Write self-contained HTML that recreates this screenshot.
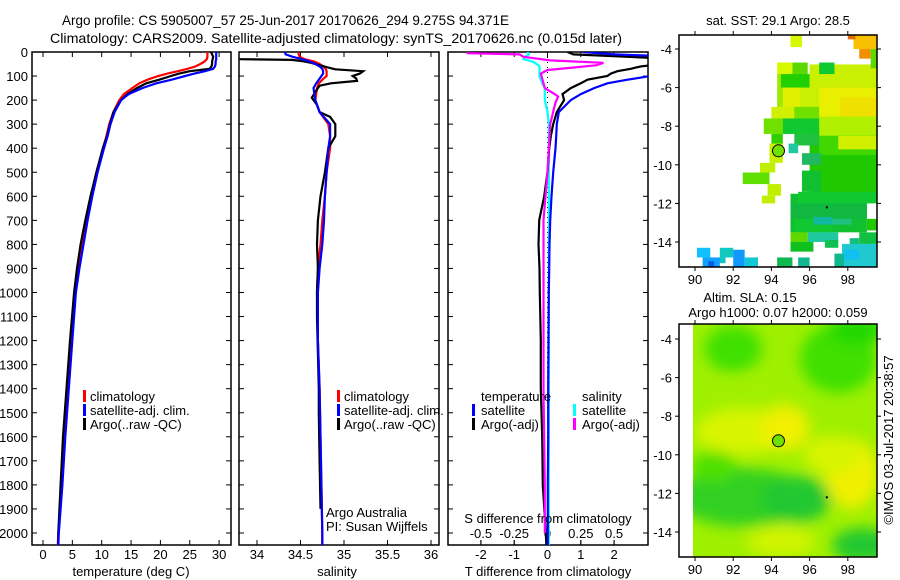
<!DOCTYPE html>
<html><head><meta charset="utf-8">
<style>
html,body{margin:0;padding:0;background:#fff;}
svg{display:block;font-family:"Liberation Sans",sans-serif;}
</style></head>
<body>
<svg id="fig" width="900" height="580" viewBox="0 0 900 580" xmlns="http://www.w3.org/2000/svg">
<defs>
<clipPath id="c1"><rect x="32" y="52" width="199" height="493"/></clipPath>
<clipPath id="c2"><rect x="239" y="52" width="200" height="493"/></clipPath>
<clipPath id="c3"><rect x="448" y="52" width="200" height="493"/></clipPath>
<clipPath id="cm1"><rect x="679" y="35" width="198" height="232"/></clipPath>
<clipPath id="cm2"><rect x="693" y="324" width="184" height="233"/></clipPath>
<filter id="blur" x="-20%" y="-20%" width="140%" height="140%"><feGaussianBlur stdDeviation="7"/></filter>
</defs>
<text x="62" y="25" font-size="14" textLength="447" lengthAdjust="spacingAndGlyphs">Argo profile: CS 5905007_57 25-Jun-2017 20170626_294 9.275S 94.371E</text>
<text x="50" y="43" font-size="14" textLength="572" lengthAdjust="spacingAndGlyphs">Climatology: CARS2009. Satellite-adjusted climatology: synTS_20170626.nc (0.015d later)</text>
<g id="plots"></g>
<g id="maps"></g>
<text transform="translate(893,440) rotate(-90)" text-anchor="middle" font-size="13">©IMOS 03-Jul-2017 20:38:57</text>
</svg>
<script>
// ---- data ----
const depths      = [0,10,20,30,40,50,60,70,80,90,100,115,130,150,175,200,250,300,350,400,500,600,700,800,900,1000,1200,1400,1600,1800,2000,2060];
const tempClim    = [28.0,28.0,28.0,27.9,27.5,26.8,26.0,24.6,23.0,21.2,19.6,17.8,16.4,15.2,13.8,13.0,12.0,11.3,10.8,10.2,9.1,8.2,7.4,6.7,6.0,5.5,4.9,4.3,3.7,3.2,2.6,2.5];
const tempSat     = [29.5,29.5,29.5,29.5,29.4,29.4,29.3,29.0,27.6,25.8,24.2,21.9,19.3,16.9,14.6,13.3,12.2,11.5,11.0,10.4,9.3,8.4,7.6,6.9,6.2,5.6,5.0,4.4,3.8,3.3,2.7,2.6];
const tempArgo    = [28.6,28.8,29.0,28.9,28.8,28.8,28.7,28.4,25.0,23.2,21.8,19.8,17.6,16.0,14.4,13.3,12.0,11.4,10.9,10.2,9.1,8.1,7.2,6.4,5.8,5.3,4.6,4.0,3.4,3.0,2.6,2.6];
const salClim     = [34.47,34.48,34.49,34.55,34.66,34.72,34.76,34.79,34.80,34.80,34.80,34.75,34.71,34.69,34.68,34.67,34.72,34.82,34.84,34.84,34.80,34.78,34.75,34.73,34.70,34.69,34.70,34.72,34.73,34.74,34.75,34.75];
const salSat      = [34.32,34.33,34.41,34.52,34.61,34.67,34.72,34.75,34.76,34.76,34.74,34.71,34.68,34.65,34.66,34.67,34.72,34.84,34.84,34.82,34.80,34.78,34.77,34.75,34.72,34.70,34.70,34.72,34.73,34.74,34.75,34.75];
const salArgoDep  = [30,33,38,45,55,65,72,80,90,100,110,120,130,140,155,190,220,250,270,300,350,400,500,600,700,800,900,1000,1100,1400,1500,1700,1900];
const salArgo     = [33.80,34.40,34.52,34.62,34.72,34.82,34.90,35.22,35.18,35.10,35.14,35.15,34.85,34.72,34.69,34.63,34.69,34.72,34.84,34.90,34.90,34.82,34.78,34.73,34.70,34.69,34.70,34.69,34.69,34.71,34.71,34.72,34.73];
const dTSat       = [1.07,2.0,4.0,4.0,4.0,4.0,4.0,4.0,4.0,3.5,3.1,2.4,1.8,1.4,1.0,0.7,0.34,0.28,0.26,0.24,0.17,0.12,0.08,0.06,0.05,0.04,0.03,0.02,0.02,0.01,0.01,0.01];
const dTArgo      = [0.6,0.78,2.4,4.0,4.0,3.5,2.8,2.5,2.1,1.9,1.8,1.2,1.0,0.7,0.45,0.5,0.28,0.17,0.1,0.05,0.0,-0.1,-0.25,-0.27,-0.24,-0.23,-0.2,-0.2,-0.16,-0.14,-0.05,-0.03];
const dSSat       = [-0.15,-0.14,-0.17,-0.18,-0.11,-0.08,-0.06,-0.06,-0.06,-0.06,-0.06,-0.05,-0.04,-0.02,-0.02,-0.02,0.0,0.01,0.01,0.01,0.01,0.01,0.01,0.01,0.01,0.01,0.01,0.01,0.01,0.01,0.01,0.01];
const dSArgoDep   = [0,5,10,20,35,45,55,65,75,90,110,150,170,185,210,300,500,700,1000,1400,1800,2000];
const dSArgo      = [-0.6,-0.6,-0.21,-0.18,0.02,0.42,0.37,0.19,0.0,-0.05,-0.04,-0.02,0.04,0.08,0.06,0.02,0.0,-0.03,-0.03,-0.03,-0.02,-0.02];
const depthTicks  = [0,100,200,300,400,500,600,700,800,900,1000,1100,1200,1300,1400,1500,1600,1700,1800,1900,2000];
const tempTicks   = [0,5,10,15,20,25,30];
const salTicks    = [34,34.5,35,35.5,36];
const dTTicks     = [-2,-1,0,1,2];
const dSTicks     = [-0.5,-0.25,0,0.25,0.5];
const lonTicks    = [90,92,94,96,98];
const latTicks    = [-4,-6,-8,-10,-12,-14];
const argoLon = 94.371, argoLat = -9.275;

const NS="http://www.w3.org/2000/svg";
function mk(tag, attrs, parent){const e=document.createElementNS(NS,tag);for(const k in attrs)e.setAttribute(k,attrs[k]);parent.appendChild(e);return e;}
const plots=document.getElementById('plots');
const maps=document.getElementById('maps');

// axis functions
const yD = d => 52 + d*0.2405;
const xT = v => 43 + v*5.87;
const xS = v => 257 + (v-34)*87;
const xDT = v => 547.5 + v*33.3;
const xDS = v => 547.5 + v*133.2;

function frame(x,w,name){
  const r=mk('rect',{x:x,y:52,width:w,height:493,fill:'none',stroke:'#000','stroke-width':1.5},plots);
  
  
  depthTicks.forEach(d=>{
    mk('line',{x1:x,x2:x+5,y1:yD(d),y2:yD(d),stroke:'#000'},plots);
    mk('line',{x1:x+w-5,x2:x+w,y1:yD(d),y2:yD(d),stroke:'#000'},plots);
  });
}
function xticks(vals,fx,labels,ly,name){
  vals.forEach((v,i)=>{
    mk('line',{x1:fx(v),x2:fx(v),y1:545,y2:540,stroke:'#000'},plots);
    mk('line',{x1:fx(v),x2:fx(v),y1:52,y2:57,stroke:'#000'},plots);
    if(labels){const t=mk('text',{x:fx(v),y:ly,'text-anchor':'middle','font-size':13},plots);t.textContent=labels[i];
      
      }
  });
}
function line(ds,vs,fx,color,clip,name,w){
  const pts=ds.map((d,i)=>fx(vs[i]).toFixed(1)+','+yD(d).toFixed(1)).join(' ');
  const p=mk('polyline',{points:pts,fill:'none',stroke:color,'stroke-width':w||2.2,'clip-path':'url(#'+clip+')'},plots);
  
  
}
function txt(x,y,s,name,anchor,size,parent){
  const t=mk('text',{x:x,y:y,'font-size':size||13,'text-anchor':anchor||'start'},parent||plots);t.textContent=s;
  
  
  return t;
}
function legbar(x,y,c,name){
  const r=mk('rect',{x:x,y:y-11,width:3,height:12,fill:c},plots);
  
  
}

// depth tick labels
depthTicks.forEach(d=>{const t=mk('text',{x:28,y:yD(d)+5,'text-anchor':'end','font-size':13},plots);t.textContent=d;
  
  });

// panel 1
frame(32,199,'temperature-panel');
xticks(tempTicks,xT,tempTicks.map(String),559,'temp-tick-label');
line(depths,tempClim,xT,'#f00','c1','temp-climatology-line');
line(depths,tempArgo,xT,'#000','c1','temp-argo-line');
line(depths,tempSat,xT,'#00f','c1','temp-satellite-line');
txt(131,576,'temperature (deg C)','temp-axis-title','middle');
legbar(83,401,'#f00','legend-red-bar');txt(90,401,'climatology','legend-climatology');
legbar(83,415,'#00f','legend-blue-bar');txt(90,415,'satellite-adj. clim.','legend-satellite');
legbar(83,429,'#000','legend-black-bar');txt(90,429,'Argo(..raw -QC)','legend-argo');

// panel 2
frame(239,200,'salinity-panel');
xticks(salTicks,xS,salTicks.map(String),559,'sal-tick-label');
line(depths,salClim,xS,'#f00','c2','sal-climatology-line');
line(salArgoDep,salArgo,xS,'#000','c2','sal-argo-line');
line(depths,salSat,xS,'#00f','c2','sal-satellite-line');
txt(337,576,'salinity','sal-axis-title','middle');
legbar(337,401,'#f00','legend2-red-bar');txt(344,401,'climatology','legend2-climatology');
legbar(337,415,'#00f','legend2-blue-bar');txt(344,415,'satellite-adj. clim.','legend2-satellite');
legbar(337,429,'#000','legend2-black-bar');txt(344,429,'Argo(..raw -QC)','legend2-argo');
txt(326,517,'Argo Australia','credit-argo-australia');
txt(326,531,'PI: Susan Wijffels','credit-pi');

// panel 3
frame(448,200,'difference-panel');
xticks(dTTicks,xDT,dTTicks.map(String),559,'dT-tick-label');
dSTicks.forEach((v,i)=>{mk('line',{x1:xDS(v),x2:xDS(v),y1:545,y2:540,stroke:'#000'},plots);
  txt(xDS(v),538,String(v),'dS-tick-label','middle');});
mk('line',{x1:547.5,x2:547.5,y1:52,y2:545,stroke:'#000','stroke-dasharray':'1,4'},plots);
line(depths,dSSat,xDS,'#0ff','c3','dS-satellite-line');
line(depths,dTArgo,xDT,'#000','c3','dT-argo-line');
line(dSArgoDep,dSArgo,xDS,'#f0f','c3','dS-argo-line');
line(depths,dTSat,xDT,'#00f','c3','dT-satellite-line');
txt(548,576,'T difference from climatology','dT-axis-title','middle');
txt(548,523,'S difference from climatology','dS-axis-title','middle');
txt(481,401,'temperature','legend3-temperature-heading');
txt(582,401,'salinity','legend3-salinity-heading');
legbar(472,415,'#00f','legend3-blue-bar');txt(481,415,'satellite','legend3-t-satellite');
legbar(472,429,'#000','legend3-black-bar');txt(481,429,'Argo(-adj)','legend3-t-argo');
legbar(573,415,'#0ff','legend3-cyan-bar');txt(582,415,'satellite','legend3-s-satellite');
legbar(573,429,'#f0f','legend3-magenta-bar');txt(582,429,'Argo(-adj)','legend3-s-argo');

// ---- maps ----
const lx = lon => 695 + (lon-90)*19.1;
const ly1 = lat => 49 + (-lat-4)*19.3;
const ly2 = lat => 339 + (-lat-4)*19.3;
function mapFrame(y0,h,ly,name){
  const r=mk('rect',{x:679,y:y0,width:198,height:h,fill:'none',stroke:'#000','stroke-width':1.5},maps);
  
  
  lonTicks.forEach(v=>{mk('line',{x1:lx(v),x2:lx(v),y1:y0,y2:y0-4,stroke:'#000'},maps);mk('line',{x1:lx(v),x2:lx(v),y1:y0+h,y2:y0+h+4,stroke:'#000'},maps);
    txt(lx(v),y0+h+17,String(v),'lon-tick-label','middle',13,maps);});
  latTicks.forEach(v=>{mk('line',{x1:675,x2:679,y1:ly(v),y2:ly(v),stroke:'#000'},maps);mk('line',{x1:877,x2:881,y1:ly(v),y2:ly(v),stroke:'#000'},maps);
    txt(672,ly(v)+5,String(v),'lat-tick-label','end',13,maps);});
}
// SST map patches: [lon0,lat0,lon1,lat1,color]
const sstPatches=[
 [96.0,-4.8,99.5,-8.0,'#c8f000'],[96.0,-8.0,99.5,-11.5,'#20c800'],[95.0,-11.5,99.0,-13.5,'#10c030'],[94.3,-5.3,96.0,-8.4,'#a0e800'],
 [95,-3.3,95.6,-3.9,'#d8f800'],[94.3,-4.7,95.1,-5.3,'#d8f800'],[95.1,-4.7,95.9,-5.3,'#5ad800'],[96.5,-4.7,97.3,-5.3,'#10c830'],
 [94.5,-5.3,96.0,-6.0,'#20d000'],[96.6,-5.3,97.4,-6.0,'#c8f000'],[97.7,-5.0,99.5,-6.0,'#c8f000'],
 [94.6,-6.0,95.5,-7.0,'#e0f000'],[95.5,-6.0,96.1,-7.0,'#c8f000'],[96.5,-6.0,99.5,-7.5,'#e8f000'],[97.6,-6.5,99.5,-7.5,'#f0e000'],
 [94.0,-7.0,95.2,-7.6,'#d0f000'],[95.2,-7.0,96.5,-7.6,'#70e000'],[96.5,-7.5,99.5,-8.5,'#b0f000'],
 [93.6,-7.6,94.6,-8.4,'#70e000'],[94.6,-7.6,96.5,-8.4,'#10c830'],[94.0,-8.4,94.6,-9.0,'#30d000'],[95.2,-8.4,96.5,-9.0,'#20c040'],
 [96.5,-8.5,99.5,-9.5,'#40d800'],[97.5,-8.5,99.5,-9.2,'#d0f000'],
 [93.9,-8.9,94.6,-9.9,'#c8f000'],[94.9,-8.9,95.4,-9.4,'#20c8a0'],[95.6,-9.4,96.6,-10.0,'#20b860'],[96.6,-9.5,99.5,-11.2,'#20c800'],
 [93.4,-9.9,94.2,-10.4,'#c0f000'],[92.5,-10.4,93.9,-11.0,'#60e000'],[93.8,-11.0,94.5,-11.6,'#c0f000'],[93.5,-11.6,94.2,-12.0,'#c0f000'],
 [95.6,-10.3,96.6,-11.4,'#10c030'],[95.4,-11.4,99.5,-12.0,'#10c830'],[95.0,-12.0,99.0,-12.8,'#10b840'],[99.0,-12.8,99.5,-13.4,'#20c800'],
 [95.2,-12.8,97.2,-13.5,'#10c830'],[96.2,-12.7,97.2,-13.1,'#10b8a0'],[97.2,-12.8,98.2,-13.1,'#20c080'],
 [95.0,-13.5,95.9,-14.0,'#60d800'],[95.9,-13.5,97.5,-14.0,'#20c8a0'],[95.0,-14.0,96.2,-14.5,'#10c020'],[96.8,-13.9,97.5,-14.3,'#10c050'],
 [98.1,-13.8,98.6,-14.2,'#10c080'],[98.6,-13.5,99.5,-14.1,'#10c040'],[97.7,-14.1,99.5,-15.3,'#20c8d0'],[97.8,-14.4,98.6,-14.9,'#10c0f0'],
 [97.3,-14.6,97.8,-15.3,'#10b890'],[94.3,-14.8,95.1,-15.3,'#10b850'],[95.4,-14.8,96.0,-15.3,'#10b890'],
 [90.1,-14.3,90.8,-14.8,'#10c0ff'],[91.3,-14.3,92.0,-14.8,'#10c8c0'],[92.0,-14.4,92.6,-15.3,'#1098ff'],[92.6,-14.8,93.3,-15.3,'#10c8d8'],
 [91.0,-14.8,91.6,-15.1,'#10c8c0'],[90.4,-14.8,91.3,-15.3,'#10a0ff'],[90.7,-15.0,91.0,-15.3,'#0060e0'],
 [98.3,-3.3,99.5,-4.0,'#f8c000'],[98.6,-4.0,99.2,-4.5,'#f09000'],[98.0,-3.3,98.4,-3.5,'#e07000'],[99.2,-4.0,99.5,-5.0,'#60d800']
];
const g1=mk('g',{'clip-path':'url(#cm1)'},maps);


sstPatches.forEach(p=>{mk('rect',{x:lx(p[0]),y:ly1(p[1]),width:lx(p[2])-lx(p[0]),height:ly1(p[3])-ly1(p[1]),fill:p[4]},g1);});
mapFrame(35,232,ly1,'sst-map-frame');
const c1=mk('circle',{cx:lx(argoLon),cy:ly1(argoLat),r:6,fill:'#70e000',stroke:'#000','stroke-width':1},maps);


mk('rect',{x:lx(96.85),y:ly1(-12.15),width:2,height:2,fill:'#000'},maps);
txt(778,25,'sat. SST: 29.1 Argo: 28.5','sst-map-title','middle',13,maps);

// SLA map
const slaBlobs=[
 [92,-4.5,1.5,1.2,'#40e000'],[97.5,-5,2,1.8,'#40e000'],[98.5,-3.5,1.5,0.8,'#20d800'],[92.5,-8.8,2.5,1.2,'#d8f400'],[94.7,-8.6,1.3,1.2,'#f0f000'],
 [98.2,-11,1.4,1.8,'#f0f000'],[97.2,-10,1.5,1,'#d8f400'],[92.5,-12.2,3.5,1.5,'#30d020'],[95.3,-12.3,1.8,1.2,'#20c830'],
 [98.8,-14.7,1.6,0.9,'#20c830'],[94.5,-14.5,1.8,0.8,'#d0f400'],[92.5,-6.8,2.5,0.6,'#a0f000'],[91,-10.6,1.2,0.8,'#50e000']
];
const g2=mk('g',{'clip-path':'url(#cm2)'},maps);


mk('rect',{x:693,y:324,width:184,height:233,fill:'#9ef000'},g2);
const gb=mk('g',{filter:'url(#blur)'},g2);
slaBlobs.forEach(b=>{mk('ellipse',{cx:lx(b[0]),cy:ly2(b[1]),rx:b[2]*19.1,ry:b[3]*19.3,fill:b[4]},gb);});
mapFrame(324,233,ly2,'sla-map-frame');
const c2=mk('circle',{cx:lx(argoLon),cy:ly2(argoLat),r:6,fill:'#70e000',stroke:'#000','stroke-width':1},maps);


mk('rect',{x:lx(96.85),y:ly2(-12.15),width:2,height:2,fill:'#000'},maps);
txt(750,302,'Altim. SLA: 0.15','sla-map-title','middle',13,maps);
txt(778,317,'Argo h1000: 0.07 h2000: 0.059','sla-map-subtitle','middle',13,maps);
</script>
</body></html>
